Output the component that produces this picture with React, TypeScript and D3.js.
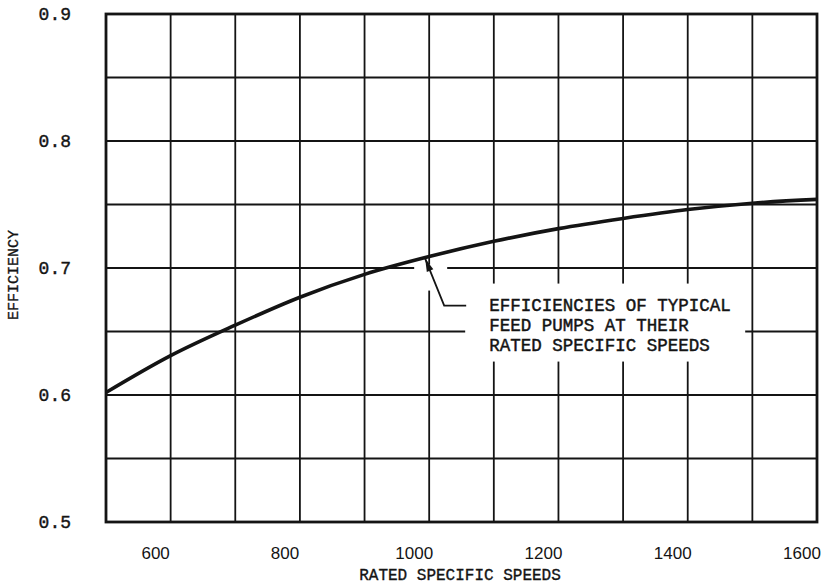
import { useEffect, useRef } from "react";
import * as d3 from "d3";

// rated specific speed (x) and efficiency (y)
const speeds = [500, 600, 700, 800, 900, 1000, 1100, 1200, 1300, 1400, 1500, 1600];
const efficiency = [0.602, 0.631, 0.655, 0.677, 0.695, 0.709, 0.721, 0.731, 0.739, 0.746, 0.751, 0.754];

const xTicks = [600, 800, 1000, 1200, 1400, 1600];
const yTicks = [0.5, 0.6, 0.7, 0.8, 0.9];
const xGrid = d3.range(500, 1601, 100);
const yGrid = d3.range(0, 9).map((i) => 0.5 + i * 0.05);

const noteLines = ["EFFICIENCIES OF TYPICAL", "FEED PUMPS AT THEIR", "RATED SPECIFIC SPEEDS"];
const noteSpeed = 1000;

const mono = "'Liberation Mono', 'DejaVu Sans Mono', monospace";
const sans = "'Liberation Sans', Arial, sans-serif";
const ink = "#141414";

const App = () => {
  const svgRef = useRef<SVGSVGElement | null>(null);

  useEffect(() => {
    const svg = d3.select(svgRef.current);
    svg.selectAll("*").remove();

    const width = 832;
    const height = 587;

    const x = d3.scaleLinear().domain([500, 1600]).range([106, 817]);
    const y = d3.scaleLinear().domain([0.5, 0.9]).range([522, 14]);

    svg.append("rect").attr("width", width).attr("height", height).attr("fill", "#fff");

    // grid
    svg
      .append("g")
      .selectAll("line")
      .data(xGrid)
      .enter()
      .append("line")
      .attr("x1", (d) => x(d))
      .attr("x2", (d) => x(d))
      .attr("y1", y(0.9))
      .attr("y2", y(0.5))
      .attr("stroke", ink)
      .attr("stroke-width", 1.8);

    svg
      .append("g")
      .selectAll("line")
      .data(yGrid)
      .enter()
      .append("line")
      .attr("x1", x(500))
      .attr("x2", x(1600))
      .attr("y1", (d) => y(d))
      .attr("y2", (d) => y(d))
      .attr("stroke", ink)
      .attr("stroke-width", 1.8);

    // white patches where the grid is broken around the note
    const ax = x(noteSpeed);
    const ay = y(efficiency[speeds.indexOf(noteSpeed)]);
    svg
      .append("rect")
      .attr("x", ax - 15)
      .attr("y", ay + 8)
      .attr("width", 33)
      .attr("height", 26)
      .attr("fill", "#fff");
    svg
      .append("rect")
      .attr("x", ax + 36)
      .attr("y", ay + 27)
      .attr("width", 280)
      .attr("height", 78)
      .attr("fill", "#fff");

    // frame
    svg
      .append("rect")
      .attr("x", x(500))
      .attr("y", y(0.9))
      .attr("width", x(1600) - x(500))
      .attr("height", y(0.5) - y(0.9))
      .attr("fill", "none")
      .attr("stroke", ink)
      .attr("stroke-width", 2.8);

    // curve
    const pts = speeds.map((s, i) => [s, efficiency[i]] as [number, number]);
    const line = d3
      .line<[number, number]>()
      .x((d) => x(d[0]))
      .y((d) => y(d[1]))
      .curve(d3.curveMonotoneX);

    svg
      .append("path")
      .datum(pts)
      .attr("fill", "none")
      .attr("stroke", ink)
      .attr("stroke-width", 3.6)
      .attr("d", line);

    // leader + arrow
    const tipX = ax - 4;
    const tipY = ay + 2;
    const elbowX = tipX + 19;
    const elbowY = tipY + 47;
    svg
      .append("path")
      .attr("d", `M${tipX},${tipY}L${elbowX},${elbowY}L${elbowX + 22},${elbowY}`)
      .attr("fill", "none")
      .attr("stroke", ink)
      .attr("stroke-width", 1.8);

    const ang = Math.atan2(elbowY - tipY, elbowX - tipX);
    const len = 13;
    const half = 3.5;
    const bx = tipX + Math.cos(ang) * len;
    const by = tipY + Math.sin(ang) * len;
    svg
      .append("path")
      .attr(
        "d",
        `M${tipX},${tipY}L${bx - Math.sin(ang) * half},${by + Math.cos(ang) * half}L${bx + Math.sin(ang) * half},${by - Math.cos(ang) * half}Z`
      )
      .attr("fill", ink);

    svg
      .append("g")
      .selectAll("text")
      .data(noteLines)
      .enter()
      .append("text")
      .attr("x", ax + 60)
      .attr("y", (_, i) => ay + 54 + i * 20)
      .style("font-family", mono)
      .style("font-size", "17.5px")
      .attr("fill", ink)
      .attr("stroke", ink)
      .attr("stroke-width", 0.45)
      .text((d) => d);

    // tick labels
    svg
      .append("g")
      .selectAll("text")
      .data(xTicks)
      .enter()
      .append("text")
      .attr("x", (d) => x(d) - 15)
      .attr("y", 559)
      .attr("text-anchor", "middle")
      .style("font-family", sans)
      .style("font-size", "17px")
      .attr("fill", ink)
      .text((d) => d);

    svg
      .append("g")
      .selectAll("text")
      .data(yTicks)
      .enter()
      .append("text")
      .attr("x", 71)
      .attr("y", (d) => y(d) + 6)
      .attr("text-anchor", "end")
      .style("font-family", mono)
      .style("font-size", "18px")
      .attr("fill", ink)
      .attr("stroke", ink)
      .attr("stroke-width", 0.4)
      .text((d) => d3.format(".1f")(d));

    // axis titles
    svg
      .append("text")
      .attr("x", 460)
      .attr("y", 580)
      .attr("text-anchor", "middle")
      .style("font-family", mono)
      .style("font-size", "16px")
      .attr("fill", ink)
      .attr("stroke", ink)
      .attr("stroke-width", 0.35)
      .text("RATED SPECIFIC SPEEDS");

    svg
      .append("text")
      .attr("transform", `translate(18,${275}) rotate(-90)`)
      .attr("text-anchor", "middle")
      .style("font-family", mono)
      .style("font-size", "15px")
      .attr("fill", ink)
      .attr("stroke", ink)
      .attr("stroke-width", 0.35)
      .text("EFFICIENCY");
  }, []);

  return (
    <svg
      ref={svgRef}
      width={832}
      height={587}
      style={{ position: "absolute", left: 0, top: 0, display: "block" }}
    />
  );
};

export default App;
